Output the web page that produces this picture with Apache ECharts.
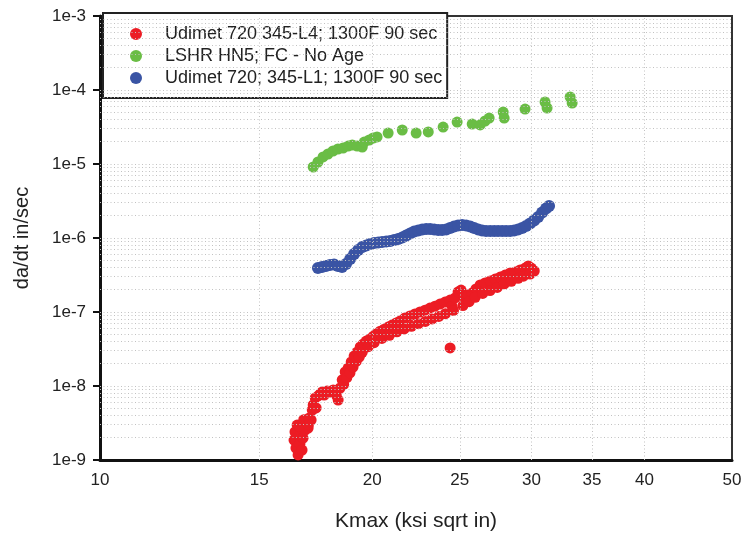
<!DOCTYPE html>
<html>
<head>
<meta charset="utf-8">
<script src="https://cdn.jsdelivr.net/npm/echarts@6/dist/echarts.min.js"></script>
<style>html,body{margin:0;padding:0;background:#fff}#c{width:743px;height:533px}</style>
</head>
<body>
<div id="c"></div>
<script>
// Series names
const seriesNames = ['Udimet 720 345-L4; 1300F 90 sec', 'LSHR HN5; FC - No Age', 'Udimet 720; 345-L1; 1300F 90 sec'];

// Kmax (ksi sqrt in), da/dt (in/sec)
const redK = [16.39,16.43,16.47,16.52,16.56,16.60,16.64,16.69,16.73,16.77,16.86,16.90,16.99,17.04,17.12,17.17,17.21,17.30,17.34,17.43,17.52,17.61,17.70,17.83,17.97,18.11,18.25,18.34,18.43,18.53,18.67,18.81,18.96,19.10,19.25,19.40,19.55,19.70,19.89,20.06,20.20,20.41,20.62,20.83,21.04,21.26,21.47,21.74,22.02,22.30,22.59,22.88,23.17,23.47,23.77,24.08,24.39,24.51,24.70,24.89,25.08,25.28,25.53,25.79,26.05,26.33,26.66,27.01,27.36,27.71,28.06,28.42,28.79,29.15,29.53,29.76,29.99,30.22,24.39,
  18.60,18.75,18.90,19.05,19.20,19.35,19.50,19.80,20.10,20.50,20.90,21.30,21.70,22.10,22.50,22.90,23.30,23.70,24.10,24.60,25.20,25.60,26.00,26.50,27.00,27.50,28.00,28.50,29.00,29.40,29.90,16.60,16.80,17.00];
const redV = [1.86e-9,2.39e-9,1.45e-9,2.97e-9,1.17e-9,2.11e-9,1.65e-9,2.70e-9,1.36e-9,1.97e-9,2.54e-9,3.26e-9,2.70e-9,3.70e-9,3.47e-9,4.74e-9,5.54e-9,6.90e-9,5.05e-9,7.33e-9,7.80e-9,8.30e-9,7.56e-9,8.57e-9,8.30e-9,8.83e-9,7.56e-9,6.47e-9,9.40e-9,1.21e-8,1.55e-8,1.75e-8,2.11e-8,2.54e-8,2.87e-8,3.37e-8,3.70e-8,4.05e-8,4.30e-8,4.72e-8,5.03e-8,5.50e-8,5.86e-8,6.25e-8,6.67e-8,7.10e-8,7.55e-8,8.30e-8,8.83e-8,9.40e-8,1.00e-7,1.06e-7,1.13e-7,1.20e-7,1.28e-7,1.36e-7,1.45e-7,1.20e-7,1.55e-7,1.87e-7,1.98e-7,1.60e-7,1.70e-7,1.80e-7,2.05e-7,2.32e-7,2.47e-7,2.62e-7,2.79e-7,2.97e-7,3.16e-7,3.37e-7,3.46e-7,3.70e-7,3.93e-7,4.19e-7,3.93e-7,3.58e-7,3.27e-8,
  1.05e-8,1.30e-8,1.50e-8,1.80e-8,2.15e-8,2.45e-8,2.85e-8,3.40e-8,3.85e-8,4.40e-8,4.85e-8,5.40e-8,5.90e-8,6.40e-8,6.95e-8,7.45e-8,8.05e-8,8.70e-8,9.50e-8,1.05e-7,1.22e-7,1.38e-7,1.58e-7,1.78e-7,1.95e-7,2.15e-7,2.40e-7,2.60e-7,2.85e-7,3.05e-7,3.25e-7,2.90e-9,3.50e-9,3.00e-9];

const greenK = [17.21,17.42,17.65,17.87,18.10,18.33,18.57,18.81,19.01,19.25,19.50,19.60,19.85,20.05,20.25,20.83,21.59,22.37,23.07,23.96,24.83,25.80,26.33,26.66,26.94,27.92,27.99,29.52,31.06,31.22,33.11,33.28];
const greenV = [9.11e-6,1.064e-5,1.244e-5,1.365e-5,1.499e-5,1.595e-5,1.645e-5,1.75e-5,1.806e-5,1.75e-5,1.697e-5,1.98e-5,2.11e-5,2.245e-5,2.32e-5,2.62e-5,2.88e-5,2.62e-5,2.71e-5,3.16e-5,3.69e-5,3.47e-5,3.37e-5,3.81e-5,4.18e-5,5.04e-5,4.18e-5,5.53e-5,6.88e-5,5.71e-5,8.04e-5,6.67e-5];

const blueK = [17.42,17.60,17.78,17.96,18.15,18.33,18.52,18.71,18.91,19.10,19.30,19.50,19.70,19.90,20.10,20.31,20.51,20.73,20.94,21.15,21.37,21.59,21.81,22.03,22.26,22.49,22.72,22.95,23.18,23.42,23.66,23.90,24.15,24.39,24.64,24.89,25.15,25.41,25.67,25.93,26.20,26.46,26.73,27.01,27.29,27.56,27.85,28.13,28.42,28.71,29.00,29.30,29.60,29.90,30.21,30.52,30.83,31.14,31.38];
const blueV = [3.93e-7,4.06e-7,4.18e-7,4.32e-7,4.38e-7,4.18e-7,4.06e-7,4.45e-7,5.20e-7,6.08e-7,6.88e-7,7.56e-7,7.92e-7,8.30e-7,8.56e-7,8.69e-7,8.83e-7,8.97e-7,9.11e-7,9.40e-7,9.69e-7,1.016e-6,1.08e-6,1.15e-6,1.224e-6,1.263e-6,1.30e-6,1.322e-6,1.322e-6,1.30e-6,1.283e-6,1.283e-6,1.30e-6,1.365e-6,1.43e-6,1.476e-6,1.50e-6,1.476e-6,1.43e-6,1.365e-6,1.30e-6,1.263e-6,1.243e-6,1.243e-6,1.243e-6,1.243e-6,1.243e-6,1.243e-6,1.243e-6,1.263e-6,1.30e-6,1.365e-6,1.453e-6,1.57e-6,1.72e-6,1.92e-6,2.21e-6,2.50e-6,2.71e-6];

// Axis tick labels
const xTickValues = [10, 15, 20, 25, 30, 35, 40, 50];
const xGridValues = [15, 20, 25, 30, 35, 40];
const yMin = 1e-9, yMax = 1e-3;

const zip = (a, b) => a.map((v, i) => [v, b[i]]);
const yGridValues = [];
for (let e = -9; e <= -4; e++) {
  for (let m = 1; m <= 9; m++) {
    if (m === 1 && e === -9) continue;
    yGridValues.push(m * Math.pow(10, e));
  }
}

const FONT = 'Liberation Sans';
const gridLine = { color: '#c2c2c2', width: 1, type: [1, 2.5] };

const chart = echarts.init(document.getElementById('c'), null, { renderer: 'canvas' });
chart.setOption({
  animation: false,
  textStyle: { fontFamily: FONT },
  grid: { left: 100, right: 11, top: 16, bottom: 73, show: true, borderColor: '#333', borderWidth: 2, backgroundColor: 'transparent', containLabel: false, outerBoundsMode: 'none' },
  legend: {
    data: seriesNames,
    orient: 'vertical',
    left: 103, top: 13,
    padding: [12, 5, 11, 27],
    itemGap: 4,
    itemWidth: 12, itemHeight: 12,
    icon: 'circle',
    backgroundColor: '#fff',
    borderColor: '#222', borderWidth: 2, borderRadius: 0,
    textStyle: { fontFamily: FONT, fontSize: 18, color: '#222', padding: [0, 0, 0, 18] }
  },
  xAxis: {
    type: 'log', logBase: 10, min: 10, max: 50,
    name: 'Kmax (ksi sqrt in)', nameLocation: 'middle', nameGap: 51,
    nameTextStyle: { fontFamily: FONT, fontSize: 21, color: '#222' },
    axisLine: { show: true, lineStyle: { color: '#111', width: 3 } },
    axisTick: { show: false },
    axisLabel: { customValues: xTickValues, fontFamily: FONT, fontSize: 17, color: '#222', margin: 12, formatter: v => String(Math.round(v)) },
    splitLine: { show: false },
    minorSplitLine: { show: false }
  },
  yAxis: {
    type: 'log', logBase: 10, min: yMin, max: yMax,
    name: 'da/dt in/sec', nameLocation: 'middle', nameGap: 68,
    nameTextStyle: { fontFamily: FONT, fontSize: 20, color: '#222' },
    axisLine: { show: true, lineStyle: { color: '#111', width: 3 } },
    axisTick: { show: true, inside: false, length: 7, lineStyle: { color: '#111', width: 2 } },
    axisLabel: { fontFamily: FONT, fontSize: 17, color: '#222', margin: 14, formatter: v => '1e' + Math.round(Math.log10(v)) },
    splitLine: { show: false }
  },
  series: [
    {
      name: 'grid', type: 'line', data: [], z: 0, silent: true,
      markLine: {
        silent: true, symbol: ['none', 'none'], label: { show: false }, precision: 15,
        lineStyle: gridLine, animation: false,
        data: yGridValues.map(v => ({ yAxis: v })).concat(xGridValues.map(v => ({ xAxis: v })))
      }
    },
    { name: seriesNames[0], type: 'scatter', data: zip(redK, redV), symbolSize: 11, itemStyle: { color: '#ec1c24', opacity: 1 }, z: 3 },
    { name: seriesNames[1], type: 'scatter', data: zip(greenK, greenV), symbolSize: 11, itemStyle: { color: '#6abd45', opacity: 1 }, z: 3 },
    { name: seriesNames[2], type: 'scatter', data: zip(blueK, blueV), symbolSize: 12, itemStyle: { color: '#3a54a4', opacity: 1 }, z: 3 }
  ]
});
</script>
</body>
</html>
